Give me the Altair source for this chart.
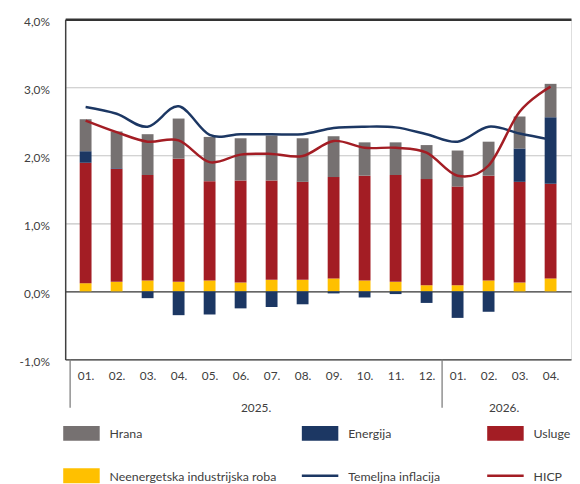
import json
import altair as alt
import pandas as pd

# ---------------- data ----------------
months = ["01.", "02.", "03.", "04.", "05.", "06.", "07.", "08.", "09.", "10.", "11.", "12.",
          "01.", "02.", "03.", "04."]
years = ["2025."] * 12 + ["2026."] * 4

neenergetska = [0.12, 0.14, 0.16, 0.14, 0.16, 0.13, 0.17, 0.17, 0.19, 0.16, 0.14, 0.09, 0.09, 0.16, 0.13, 0.19]
usluge = [1.77, 1.66, 1.55, 1.81, 1.46, 1.50, 1.46, 1.44, 1.49, 1.54, 1.57, 1.56, 1.45, 1.54, 1.48, 1.39]
energija = [0.17, 0.01, -0.10, -0.35, -0.34, -0.25, -0.23, -0.19, -0.03, -0.09, -0.04, -0.17, -0.39, -0.30, 0.49, 0.98]
hrana = [0.47, 0.54, 0.60, 0.59, 0.65, 0.62, 0.66, 0.64, 0.60, 0.49, 0.48, 0.50, 0.53, 0.50, 0.47, 0.49]

temeljna = [2.71, 2.61, 2.42, 2.72, 2.30, 2.31, 2.31, 2.31, 2.40, 2.42, 2.41, 2.31, 2.20, 2.42, 2.32, 2.23]
hicp = [2.51, 2.34, 2.20, 2.22, 1.90, 2.01, 2.02, 1.99, 2.21, 2.11, 2.11, 2.04, 1.70, 1.85, 2.64, 3.01]

bar_series = ["Neenergetska industrijska roba", "Usluge", "Energija", "Hrana"]
bar_values = [neenergetska, usluge, energija, hrana]
line_series = ["Temeljna inflacija", "HICP"]
line_values = [temeljna, hicp]

legend_order = ["Hrana", "Energija", "Usluge",
                "Neenergetska industrijska roba", "Temeljna inflacija", "HICP"]

# ---------------- styles ----------------
COLORS = {
    "Hrana": "#767171",
    "Energija": "#1c3763",
    "Usluge": "#a31d24",
    "Neenergetska industrijska roba": "#ffc000",
    "Temeljna inflacija": "#1c3763",
    "HICP": "#a31d24",
}
FONT = "Lato"
TEXT_COLOR = "#404040"

# ---------------- tables ----------------
n = len(months)
bar_rows = []
for i in range(n):
    for k, (name, vals) in enumerate(zip(bar_series, bar_values)):
        bar_rows.append({"idx": i + 1, "series": name, "value": vals[i], "ord": k})
bars_df = pd.DataFrame(bar_rows)

line_rows = []
for name, vals in zip(line_series, line_values):
    for i in range(n):
        line_rows.append({"idx": i + 1, "series": name, "value": vals[i]})
lines_df = pd.DataFrame(line_rows)

# year groups -> separators and centred labels
year_rows = []
sep_rows = [{"pos": 0.5}]
start = 1
for i in range(1, n + 1):
    if i == n or years[i] != years[i - 1]:
        year_rows.append({"year": years[i - 1], "mid": (start + i) / 2})
        sep_rows.append({"pos": i + 0.5})
        start = i + 1
sep_rows = sep_rows[:-1]
years_df = pd.DataFrame(year_rows)
sep_df = pd.DataFrame(sep_rows)

# ---------------- scales / axes ----------------
x_scale = alt.Scale(domain=[0.5, n + 0.5], nice=False, zero=False)
y_scale = alt.Scale(domain=[-1, 4], nice=False, zero=False)

x_axis = alt.Axis(
    values=list(range(1, n + 1)),
    labelExpr=json.dumps(months) + "[datum.value - 1]",
    domain=False, ticks=False, grid=False,
    labelPadding=11, labelFontSize=12, labelFont=FONT, labelColor=TEXT_COLOR,
    labelFlush=False, labelOverlap=False, labelBound=False, title=None,
)
y_axis = alt.Axis(
    values=[-1, 0, 1, 2, 3, 4],
    labelExpr="(datum.value < 0 ? '-' : '') + abs(datum.value) + ',0%'",
    ticks=False, domainColor="#404040", domainWidth=1.5,
    grid=True,
    gridColor={"condition": {"test": "datum.value == 4 || datum.value <= 0", "value": "#333333"},
               "value": "#c4c4c4"},
    gridWidth={"condition": {"test": "datum.value == 4", "value": 2.5}, "value": 1.2},
    labelPadding=16, labelOffset=2, labelFontSize=12, labelFont=FONT, labelColor=TEXT_COLOR,
    labelOverlap=False, title=None,
)

color_scale = alt.Scale(domain=list(COLORS.keys()), range=list(COLORS.values()))

bars = alt.Chart(bars_df).mark_bar(size=12).encode(
    x=alt.X("idx:Q", scale=x_scale, axis=x_axis),
    y=alt.Y("value:Q", stack="zero", scale=y_scale, axis=y_axis),
    color=alt.Color("series:N", scale=color_scale, legend=None),
    order=alt.Order("ord:Q"),
)

lines = alt.Chart(lines_df).mark_line(strokeWidth=2.5, interpolate="cardinal").encode(
    x=alt.X("idx:Q", scale=x_scale, axis=x_axis),
    y=alt.Y("value:Q", scale=y_scale, axis=y_axis),
    color=alt.Color("series:N", scale=color_scale, legend=None),
)

seps = alt.Chart(sep_df).mark_rule(color="#7f7f7f", strokeWidth=1.3).encode(
    x=alt.X("pos:Q", scale=x_scale, axis=x_axis),
    y=alt.value(345),
    y2=alt.value(394),
)

year_text = alt.Chart(years_df).mark_text(
    fontSize=12, font=FONT, color=TEXT_COLOR, baseline="middle", align="center"
).encode(
    x=alt.X("mid:Q", scale=x_scale, axis=x_axis),
    y=alt.value(394),
    text="year:N",
)

# ---------------- manual legend ----------------
LEG_COL_X = [-2, 240, 428]
LEG_ROW_Y = [420, 463]
SW_W, SW_H, TXT_DX = 37, 15, 47
one = pd.DataFrame({"k": [0]})
legend_layers = []
for j, name in enumerate(legend_order):
    cx = LEG_COL_X[j % 3]
    cy = LEG_ROW_Y[j // 3]
    if name in line_series:
        sw = alt.Chart(one).mark_rule(color=COLORS[name], strokeWidth=2.5).encode(
            x=alt.value(cx), x2=alt.value(cx + SW_W), y=alt.value(cy))
    else:
        sw = alt.Chart(one).mark_rect(color=COLORS[name]).encode(
            x=alt.value(cx), x2=alt.value(cx + SW_W),
            y=alt.value(cy - SW_H / 2), y2=alt.value(cy + SW_H / 2))
    tx = alt.Chart(one).mark_text(
        align="left", baseline="middle", fontSize=12.5, font=FONT, color=TEXT_COLOR
    ).encode(x=alt.value(cx + TXT_DX), y=alt.value(cy + 1), text=alt.value(name))
    legend_layers += [sw, tx]

chart = alt.layer(bars, lines, seps, year_text, *legend_layers).properties(
    width=513, height=345,
    padding={"left": 58, "top": 8, "right": 1, "bottom": 123},
    autosize="none",
).configure_view(stroke=None).configure_axis(labelOverlap=False).configure(background="white")

chart.save("out.html", embed_options={"renderer": "svg", "actions": False})
